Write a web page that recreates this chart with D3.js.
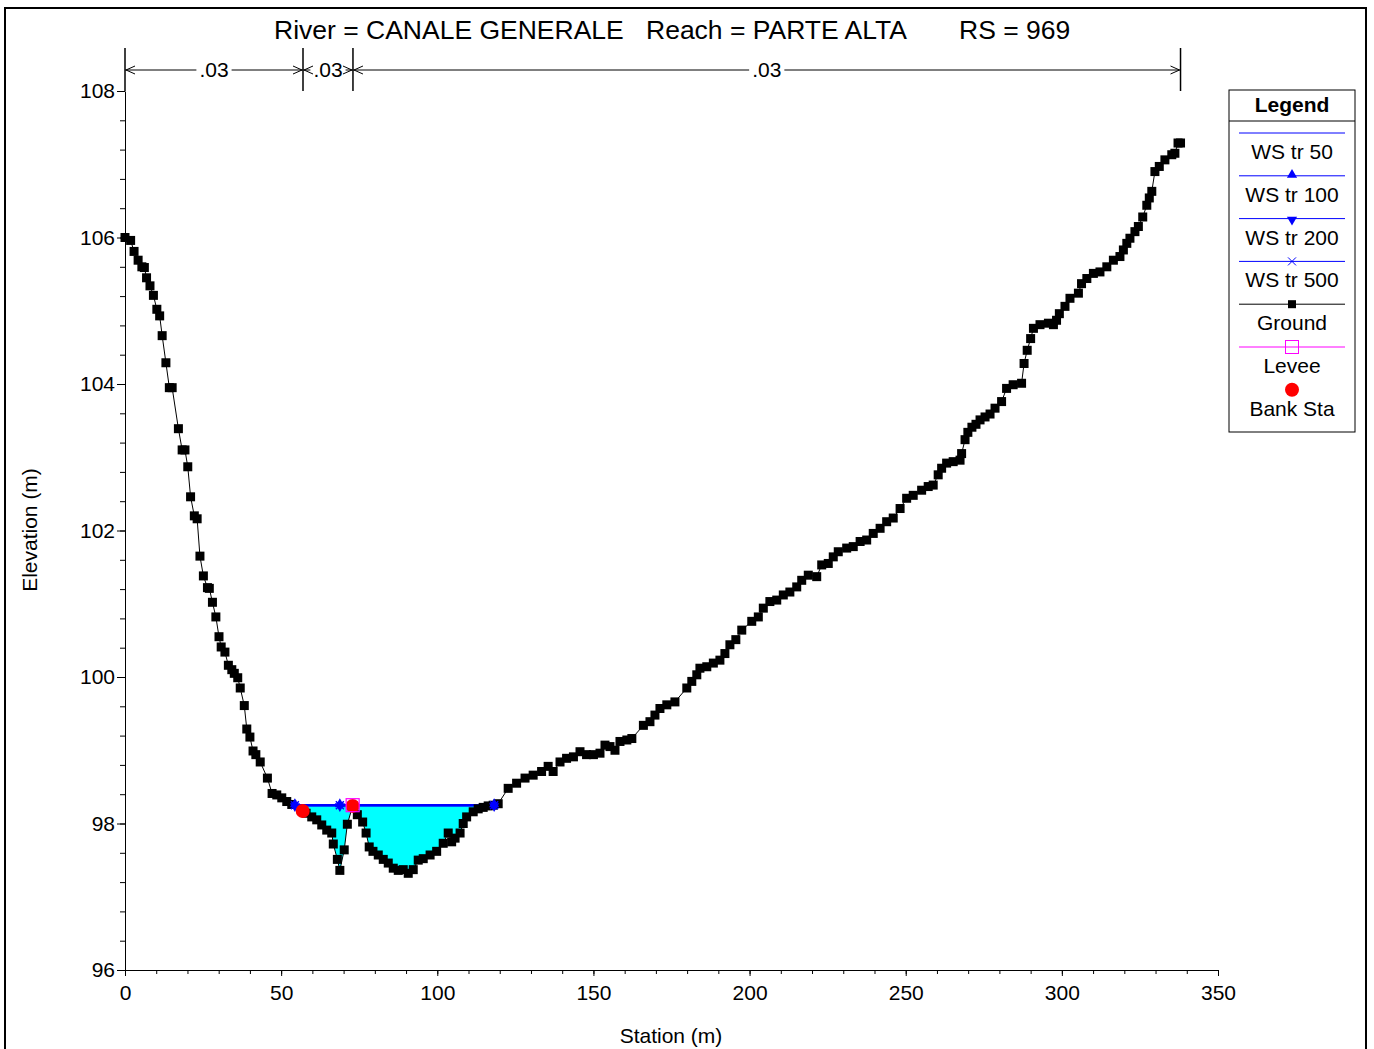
<!DOCTYPE html>
<html><head><meta charset="utf-8">
<script src="https://cdn.jsdelivr.net/npm/d3@7"></script>
<style>body{margin:0;background:#fff} svg text{font-family:"Liberation Sans",Arial,sans-serif;fill:#000}</style>
</head><body><svg id="c" width="1374" height="1049"></svg>
<script>
const groundStation=[0.0,1.8,2.9,4.2,5.4,6.2,6.9,8.0,9.1,10.2,
11.1,11.9,13.1,14.2,15.1,17.1,18.3,19.2,20.1,21.0,
22.2,23.1,24.0,25.1,26.4,27.0,28.0,29.1,30.1,30.8,
32.0,33.1,34.2,35.0,36.1,36.9,38.2,39.0,40.0,41.0,
41.9,43.3,45.6,47.1,48.6,50.2,51.8,53.4,56.6,58.0,
59.8,61.4,63.0,64.6,66.2,66.7,68.0,68.8,70.2,71.2,
72.9,74.4,76.1,77.2,78.2,79.4,81.1,82.7,84.3,85.9,
87.5,89.1,90.7,92.3,93.9,95.5,97.7,99.8,101.9,103.5,
104.6,105.7,107.3,108.3,109.4,111.5,113.1,114.7,116.3,117.9,
119.5,122.7,125.4,128.1,130.7,133.4,135.5,137.1,139.3,141.4,
143.6,145.7,147.8,150.0,152.1,153.7,155.3,156.9,158.5,160.7,
162.3,166.0,168.1,169.7,171.3,173.5,176.1,179.9,181.5,183.1,
184.1,186.3,188.4,190.5,192.1,193.7,195.6,197.5,200.7,202.8,
204.4,206.5,208.7,210.8,212.9,215.1,216.7,218.8,221.5,223.1,
225.2,226.8,228.4,231.1,233.2,235.4,237.5,239.6,241.8,243.9,
246.0,248.2,250.3,252.4,255.1,257.2,258.8,260.4,261.5,263.1,
265.2,267.4,267.9,269.0,269.9,271.2,272.5,273.8,275.4,277.0,
278.6,280.7,282.3,284.4,287.1,287.9,288.9,290.0,290.9,293.0,
295.7,297.3,298.3,299.2,301.0,302.6,305.3,306.3,308.0,310.1,
312.2,314.4,316.5,318.6,319.7,320.8,321.8,323.4,324.5,325.9,
327.2,328.0,328.8,329.8,331.2,333.0,335.2,336.2,337.2,338.0];
const groundElev=[106.00,105.96,105.81,105.69,105.60,105.59,105.45,105.34,105.21,105.02,
104.93,104.66,104.29,103.95,103.95,103.39,103.10,103.10,102.87,102.46,
102.20,102.16,101.65,101.38,101.22,101.21,101.02,100.82,100.55,100.41,
100.34,100.16,100.10,100.05,99.99,99.85,99.61,99.29,99.18,98.99,
98.94,98.84,98.62,98.41,98.39,98.35,98.30,98.26,98.18,98.14,
98.09,98.05,97.98,97.91,97.87,97.72,97.51,97.36,97.64,97.99,
98.24,98.12,98.02,97.87,97.68,97.62,97.57,97.51,97.46,97.39,
97.36,97.37,97.32,97.37,97.50,97.52,97.57,97.62,97.73,97.87,
97.75,97.80,97.87,98.00,98.09,98.16,98.20,98.22,98.24,98.25,
98.27,98.48,98.55,98.62,98.66,98.71,98.78,98.71,98.84,98.89,
98.91,98.98,98.94,98.94,98.96,99.07,99.05,99.00,99.12,99.14,
99.16,99.34,99.39,99.48,99.57,99.62,99.66,99.85,99.94,100.03,
100.12,100.14,100.19,100.23,100.32,100.44,100.51,100.64,100.76,100.82,
100.94,101.03,101.05,101.12,101.16,101.23,101.32,101.39,101.37,101.53,
101.55,101.64,101.71,101.76,101.78,101.85,101.87,101.96,102.03,102.12,
102.17,102.30,102.44,102.48,102.55,102.60,102.62,102.76,102.85,102.92,
102.94,102.96,103.05,103.24,103.34,103.41,103.45,103.51,103.55,103.59,
103.67,103.76,103.94,103.99,104.01,104.28,104.46,104.62,104.76,104.81,
104.83,104.81,104.87,104.96,105.06,105.17,105.24,105.37,105.44,105.51,
105.53,105.60,105.69,105.74,105.83,105.92,105.99,106.08,106.15,106.28,
106.44,106.54,106.63,106.90,106.97,107.06,107.13,107.15,107.29,107.29];

const xTicks=[0,50,100,150,200,250,300,350];
const yTicks=[96,98,100,102,104,106,108];
const wsProfiles=["WS tr 50","WS tr 100","WS tr 200","WS tr 500"];
const wsElev=[98.25,98.25,98.25,98.25];
const wsMarkerStations=[54.4,68.8,118.2];
const bankStations=[56.9,72.9];
const leveeStations=[72.9];
const leveeElevs=[98.25];
const manningBounds=[0,57,73,338];
const manningN=[".03",".03",".03"];
const legendLabels=["WS tr 50","WS tr 100","WS tr 200","WS tr 500","Ground","Levee","Bank Sta"];
const titleParts=["River = CANALE GENERALE","Reach = PARTE ALTA","RS = 969"];

const svg=d3.select("#c");
const x=d3.scaleLinear([0,350],[125,1218]);
const y=d3.scaleLinear([96,108],[970,91]);
const ground=groundStation.map((s,i)=>({s,e:groundElev[i]}));
const interp=s=>{for(let i=0;i<ground.length-1;i++){const a=ground[i],b=ground[i+1];if(s>=a.s&&s<=b.s)return a.e+(b.e-a.e)*(s-a.s)/(b.s-a.s);}return ground[ground.length-1].e;};

// outer frame
svg.append("rect").attr("x",5).attr("y",8).attr("width",1361).attr("height",1060).attr("fill","none").attr("stroke","#000").attr("stroke-width",2);

// title
const tx=[274,646,959];
titleParts.forEach((t,i)=>svg.append("text").attr("x",tx[i]).attr("y",39).attr("font-size",26.5).text(t));

// water fill
const ws=wsElev[0];
let imin=d3.minIndex(ground,d=>d.e);
let li=imin;while(li>0&&ground[li].e<ws)li--;
let ri=imin;while(ri<ground.length-1&&ground[ri].e<ws)ri++;
const cross=(a,b)=>a.s+(b.s-a.s)*(ws-a.e)/(b.e-a.e);
const sl=ground[li].e===ws?ground[li].s:cross(ground[li],ground[li+1]);
const sr=ground[ri].e===ws?ground[ri].s:cross(ground[ri-1],ground[ri]);
const fillPts=[{s:sl,e:ws},...ground.slice(li+1,ri),{s:sr,e:ws}];
svg.append("path").datum(fillPts).attr("fill","#00FFFF")
  .attr("d",d3.area().x(d=>x(d.s)).y0(y(ws)).y1(d=>y(Math.min(d.e,ws))));

// axes
const xa=svg.append("g").attr("transform",`translate(0,${y(96)})`)
  .call(d3.axisBottom(x).tickValues(xTicks).tickSize(6).tickSizeOuter(0).tickPadding(9).tickFormat(d3.format("d")));
xa.selectAll("text").attr("font-size",21).attr("font-family","Liberation Sans, Arial, sans-serif");
const xm=svg.append("g").attr("transform",`translate(0,${y(96)})`)
  .call(d3.axisBottom(x).tickValues(d3.range(0,351,10)).tickSize(4).tickSizeOuter(0).tickFormat(""));
xm.select(".domain").remove();
const ya=svg.append("g").attr("transform",`translate(${x(0)},0)`)
  .call(d3.axisLeft(y).tickValues(yTicks).tickSize(8).tickSizeOuter(0).tickPadding(2).tickFormat(d3.format("d")));
ya.selectAll("text").attr("font-size",21).attr("font-family","Liberation Sans, Arial, sans-serif");
const ym=svg.append("g").attr("transform",`translate(${x(0)},0)`)
  .call(d3.axisLeft(y).tickValues(d3.range(0,31).map(i=>96+i*0.4)).tickSize(5).tickSizeOuter(0).tickFormat(""));
ym.select(".domain").remove();
svg.selectAll(".domain,.tick line").attr("stroke","#000");

svg.append("text").attr("x",671).attr("y",1043).attr("text-anchor","middle").attr("font-size",21).text("Station (m)");
svg.append("text").attr("transform","translate(37,530) rotate(-90)").attr("text-anchor","middle").attr("font-size",21).text("Elevation (m)");

// Manning's n
const mg=svg.append("g");
manningBounds.forEach(b=>mg.append("line").attr("x1",x(b)).attr("x2",x(b)).attr("y1",48).attr("y2",y(108)).attr("stroke","#000").attr("stroke-width",1.5));
manningN.forEach((n,i)=>{
  const a=x(manningBounds[i]),b=x(manningBounds[i+1]),c=(a+b)/2;
  const t=mg.append("text").attr("x",c).attr("y",77).attr("text-anchor","middle").attr("font-size",21).text(n);
  const w=t.node().getComputedTextLength();
  mg.append("line").attr("x1",a).attr("x2",c-w/2-3).attr("y1",70).attr("y2",70).attr("stroke","#000");
  mg.append("line").attr("x1",c+w/2+3).attr("x2",b).attr("y1",70).attr("y2",70).attr("stroke","#000");
  mg.append("path").attr("d",`M${a+10},66L${a+1},70L${a+10},74M${b-10},66L${b-1},70L${b-10},74`).attr("fill","none").attr("stroke","#000");
});

// ground
svg.append("path").datum(ground).attr("fill","none").attr("stroke","#000").attr("stroke-width",1)
  .attr("d",d3.line().x(d=>x(d.s)).y(d=>y(d.e)));

// WS lines
wsElev.forEach(e=>svg.append("line").attr("x1",x(sl)).attr("x2",x(sr)).attr("y1",y(e)).attr("y2",y(e)).attr("stroke","#0000FF").attr("stroke-width",2));

svg.append("g").selectAll("rect").data(ground).join("rect")
  .attr("x",d=>x(d.s)-4.5).attr("y",d=>y(d.e)-4.5).attr("width",9).attr("height",9).attr("fill","#000");

// WS markers
const triUp=d3.symbol(d3.symbolTriangle,45)();
const mk=svg.append("g");
wsMarkerStations.forEach(s=>{
  const px=x(s),py=y(ws);
  mk.append("path").attr("d",triUp).attr("transform",`translate(${px},${py-1})`).attr("fill","#0000FF");
  mk.append("path").attr("d",triUp).attr("transform",`translate(${px},${py+1}) rotate(180)`).attr("fill","#0000FF");
  mk.append("path").attr("d",`M${px-4},${py-4}L${px+4},${py+4}M${px-4},${py+4}L${px+4},${py-4}`).attr("stroke","#0000FF").attr("stroke-width",1.5);
});

// bank stations
svg.append("g").selectAll("circle").data(bankStations).join("circle")
  .attr("cx",d=>x(d)).attr("cy",d=>y(interp(d))).attr("r",7).attr("fill","#FF0000");
// levee
svg.append("g").selectAll("rect").data(leveeStations).join("rect")
  .attr("x",d=>x(d)-6.5).attr("y",(d,i)=>y(leveeElevs[i])-6.5).attr("width",13).attr("height",13)
  .attr("fill","none").attr("stroke","#FF00FF").attr("stroke-width",1.2);

// legend
const lg=svg.append("g");
lg.append("rect").attr("x",1229).attr("y",90).attr("width",126).attr("height",342).attr("fill","#fff").attr("stroke","#000");
lg.append("text").attr("x",1292).attr("y",112).attr("text-anchor","middle").attr("font-size",21).attr("font-weight","bold").text("Legend");
lg.append("line").attr("x1",1229).attr("x2",1355).attr("y1",121).attr("y2",121).attr("stroke","#000");
legendLabels.forEach((lab,i)=>{
  const ly=133+42.8*i,cx=1292;
  if(i<6){
    const col=i<4?"#0000FF":(i===4?"#000":"#FF00FF");
    lg.append("line").attr("x1",1239).attr("x2",1345).attr("y1",ly).attr("y2",ly).attr("stroke",col);
  }
  if(i===1)lg.append("path").attr("d",triUp).attr("transform",`translate(${cx},${ly-1})`).attr("fill","#0000FF");
  if(i===2)lg.append("path").attr("d",triUp).attr("transform",`translate(${cx},${ly+1}) rotate(180)`).attr("fill","#0000FF");
  if(i===3)lg.append("path").attr("d",`M${cx-4},${ly-4}L${cx+4},${ly+4}M${cx-4},${ly+4}L${cx+4},${ly-4}`).attr("stroke","#0000FF");
  if(i===4)lg.append("rect").attr("x",cx-4).attr("y",ly-4).attr("width",8).attr("height",8).attr("fill","#000");
  if(i===5)lg.append("rect").attr("x",cx-6.5).attr("y",ly-6.5).attr("width",13).attr("height",13).attr("fill","none").attr("stroke","#FF00FF");
  if(i===6)lg.append("circle").attr("cx",cx).attr("cy",ly).attr("r",7).attr("fill","#FF0000");
  lg.append("text").attr("x",cx).attr("y",ly+26).attr("text-anchor","middle").attr("font-size",21).text(lab);
});
</script></body></html>
